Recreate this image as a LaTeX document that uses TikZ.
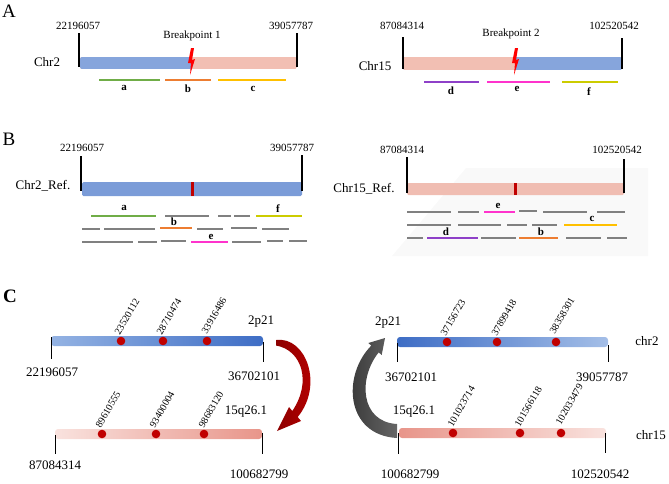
\documentclass[tikz,border=0pt]{standalone}
\usepackage{fontspec}
\setmainfont{Liberation Serif}
\definecolor{barblue}{HTML}{86A5DC}
\definecolor{barpink}{HTML}{F2BFB3}
\definecolor{refblue}{HTML}{7B9CD8}
\definecolor{refpink}{HTML}{F0BDB2}
\definecolor{rgreen}{HTML}{70AD47}
\definecolor{rorange}{HTML}{ED7D31}
\definecolor{ryellow}{HTML}{FFC000}
\definecolor{rpurple}{HTML}{8E40C8}
\definecolor{rmagenta}{HTML}{FF33CC}
\definecolor{rolive}{HTML}{CCCC00}
\definecolor{rgray}{HTML}{808080}
\definecolor{dotred}{HTML}{C00000}
\definecolor{cblueL}{HTML}{94B3E3}
\definecolor{cblueD}{HTML}{3E6DC5}
\definecolor{cpinkL}{HTML}{F9E2DE}
\definecolor{cpinkD}{HTML}{E8958A}
\tikzset{
  panel/.style={font=\fontsize{19}{21}\selectfont, inner sep=0},
  numA/.style={font=\fontsize{11}{13}\selectfont, inner sep=0},
  numC/.style={font=\fontsize{13}{15}\selectfont, inner sep=0},
  chrlab/.style={font=\fontsize{13}{15}\selectfont, inner sep=0},
  rl/.style={font=\fontsize{11}{13}\selectfont\bfseries, inner sep=0},
  rot/.style={font=\fontsize{10}{12}\selectfont, rotate=60, anchor=west, inner sep=0},
  tick/.style={line width=1.1pt, black},
  readline/.style={line width=2pt},
  dotc/.style={circle, fill=dotred, inner sep=0, minimum size=8.6pt},
}
\begin{document}
\begin{tikzpicture}[x=1pt,y=-1pt]
\useasboundingbox (0,0) rectangle (669,483);
% faint background (panel B right)
\fill[gray!5] (392,256) -- (466,168) -- (648,168) -- (648,256) -- cycle;

% ================= Panel A =================
\node[panel] (pA) at (9,11) {A};
\node[numA] (a1) at (78,26) {22196057};
\node[numA] (a2) at (291,26) {39057787};
\node[numA] (bp1) at (192,36) {Breakpoint 1};
\node[chrlab] (chr2) at (47,62) {Chr2};
\begin{scope}
  \clip[rounded corners=2] (80,57) rectangle (297,69);
  \fill[barpink] (80,57) rectangle (297,69);
  \fill[barblue] (80,57) rectangle (192,69);
\end{scope}
\draw[tick] (79,33) -- (79,67);
\draw[tick] (297,33) -- (297,67);
\begin{scope}[shift={(191,61)}]
  \fill[red] (0,-13) -- (3,-13) -- (1,-1) -- (4,-2) -- (-1,14) -- (0,2) -- (-3,2) -- cycle;
\end{scope}
\draw[readline, rgreen] (99,80) -- (160,80);
\draw[readline, rorange] (165,80) -- (211,80);
\draw[readline, ryellow] (218,80) -- (286,80);
\node[rl] (la) at (124,88) {a};
\node[rl] (lb) at (188,89) {b};
\node[rl] (lc) at (253,89) {c};

\node[numA] (a3) at (402,26) {87084314};
\node[numA] (a4) at (614,26) {102520542};
\node[numA] (bp2) at (511,34) {Breakpoint 2};
\node[chrlab] (chr15) at (375,66) {Chr15};
\begin{scope}
  \clip[rounded corners=2] (403,57) rectangle (622,70);
  \fill[barblue] (403,57) rectangle (622,70);
  \fill[barpink] (403,57) rectangle (515,70);
\end{scope}
\draw[tick] (403,37) -- (403,69);
\draw[tick] (622,38) -- (622,69);
\begin{scope}[shift={(515,61)}]
  \fill[red] (0,-13) -- (3,-13) -- (1,-1) -- (4,-2) -- (-1,14) -- (0,2) -- (-3,2) -- cycle;
\end{scope}
\draw[readline, rpurple] (424,82) -- (479,82);
\draw[readline, rmagenta] (487,82) -- (550,82);
\draw[readline, rolive] (562,82) -- (618,82);
\node[rl] (ld) at (451,91) {d};
\node[rl] (le) at (517,89) {e};
\node[rl] (lf) at (589,92) {f};

% ================= Panel B =================
\node[panel] (pB) at (9,139) {B};
\node[numA] (b1) at (82,148) {22196057};
\node[numA] (b2) at (292,148) {39057787};
\node[chrlab] (chr2r) at (43,186) {Chr2\_Ref.};
\fill[refblue, rounded corners=1.5] (82,182) rectangle (302,196);
\fill[dotred] (191,182) rectangle (193.5,196);
\draw[tick] (81,156) -- (81,191);
\draw[tick] (302,155) -- (302,191);
% row 1
\draw[readline, rgreen] (91,216) -- (156,216);
\draw[readline, rgray] (165,216) -- (209,216);
\draw[readline, rgray] (218,216) -- (231,216);
\draw[readline, rgray] (234,216) -- (250,216);
\draw[readline, rolive] (256,216) -- (302,216);
% row 2
\draw[readline, rgray] (82,229) -- (100,229);
\draw[readline, rgray] (104,229) -- (155,229);
\draw[readline, rorange] (160,228) -- (192,228);
\draw[readline, rgray] (197,229) -- (223,229);
\draw[readline, rgray] (231,228) -- (257,228);
\draw[readline, rgray] (262,229) -- (289,229);
% row 3
\draw[readline, rgray] (82,242) -- (133,242);
\draw[readline, rgray] (138,242) -- (157,242);
\draw[readline, rgray] (161,241) -- (186,241);
\draw[readline, rmagenta] (191,242) -- (228,242);
\draw[readline, rgray] (232,242) -- (261,242);
\draw[readline, rgray] (267,241) -- (283,241);
\draw[readline, rgray] (289,241) -- (307,241);
\node[rl] (ba) at (124,208) {a};
\node[rl] (bf) at (278,209) {f};
\node[rl] (bb) at (174,222) {b};
\node[rl] (be) at (211,237) {e};

\node[numA] (b3) at (402,150) {87084314};
\node[numA] (b4) at (617,150) {102520542};
\node[chrlab] (chr15r) at (364,189) {Chr15\_Ref.};
\fill[refpink, rounded corners=1.5] (407,183) rectangle (624,195);
\fill[dotred] (514,183) rectangle (516.5,195);
\draw[tick] (407,157) -- (407,193);
\draw[tick] (624,159) -- (624,193);
% row 1
\draw[readline, rgray] (407,212) -- (451,212);
\draw[readline, rgray] (458,212) -- (479,212);
\draw[readline, rmagenta] (484,212) -- (515,212);
\draw[readline, rgray] (519,211) -- (537,211);
\draw[readline, rgray] (543,212) -- (587,212);
\draw[readline, rgray] (597,212) -- (625,212);
% row 2
\draw[readline, rgray] (407,225) -- (451,225);
\draw[readline, rgray] (458,225) -- (501,225);
\draw[readline, rgray] (507,225) -- (527,225);
\draw[readline, rgray] (532,225) -- (557,225);
\draw[readline, ryellow] (564,225) -- (617,225);
% row 3
\draw[readline, rgray] (407,238) -- (423,238);
\draw[readline, rpurple] (427,238) -- (478,238);
\draw[readline, rgray] (481,238) -- (516,238);
\draw[readline, rorange] (519,238) -- (558,238);
\draw[readline, rgray] (566,238) -- (601,238);
\draw[readline, rgray] (607,238) -- (627,238);
\node[rl] (re) at (498,206) {e};
\node[rl] (rc) at (592,219) {c};
\node[rl] (rd) at (446,232) {d};
\node[rl] (rb) at (541,232) {b};

% ================= Panel C =================
\node[panel, font=\fontsize{19}{21}\selectfont\bfseries] (pC) at (10,296) {C};
% left top
\shade[left color=cblueL, right color=cblueD, rounded corners=3] (51,336) rectangle (263,346);
\draw[tick, line width=0.9pt] (51,337) -- (51,359);
\draw[tick, line width=0.9pt] (263,342) -- (263,362);
\node[dotc] (d1) at (121,341) {};
\node[dotc] (d2) at (163,341) {};
\node[dotc] (d3) at (207,341) {};
\node[rot] (t1) at (117,334) {23520112};
\node[rot] (t2) at (159,334) {28710474};
\node[rot] (t3) at (204,333) {33916486};
\node[numC] (p2a) at (261,322) {2p21};
\node[numC] (c1) at (52,372) {22196057};
\node[numC] (c2) at (254,376) {36702101};
% left bottom
\shade[left color=cpinkL, right color=cpinkD, rounded corners=3] (55,429) rectangle (262,439);
\draw[tick, line width=0.9pt] (55,435) -- (55,454);
\draw[tick, line width=0.9pt] (262,433) -- (262,454);
\node[dotc] (d4) at (102,434) {};
\node[dotc] (d5) at (156,434) {};
\node[dotc] (d6) at (204,434) {};
\node[rot] (t4) at (98,427) {89610555};
\node[rot] (t5) at (152,427) {93400004};
\node[rot] (t6) at (201,427) {98683120};
\node[numC] (q15a) at (246,412) {15q26.1};
\node[numC] (c3) at (55,465) {87084314};
\node[numC] (c4) at (259,474) {100682799};
% red curved arrow
\shade[left color=red!55!black, right color=dotred]
  (276,340) .. controls (306,336) and (324,385) .. (297.7,417)
  -- (301,421) -- (277,431) -- (289,407) -- (292.3,411)
  .. controls (312,382) and (302,350) .. (276,345.5) -- cycle;

% right top
\shade[left color=cblueD, right color=cblueL!85!white, rounded corners=3] (397,337) rectangle (608,347);
\draw[tick, line width=0.9pt] (397,343) -- (397,362);
\draw[tick, line width=0.9pt] (608,345) -- (608,362);
\node[dotc] (d7) at (447,342) {};
\node[dotc] (d8) at (497,342) {};
\node[dotc] (d9) at (556,342) {};
\node[rot] (t7) at (443,335) {37156723};
\node[rot] (t8) at (494,335) {37899418};
\node[rot] (t9) at (552,333) {38358301};
\node[numC] (p2b) at (388,323) {2p21};
\node[chrlab] (chr2c) at (647,341) {chr2};
\node[numC] (c5) at (411,377) {36702101};
\node[numC] (c6) at (602,377) {39057787};
% right bottom
\shade[left color=cpinkD, right color=cpinkL, rounded corners=3] (399,428) rectangle (606,438);
\draw[tick, line width=0.9pt] (398,433) -- (398,454);
\draw[tick, line width=0.9pt] (605,433) -- (605,453);
\node[dotc] (d10) at (453,433) {};
\node[dotc] (d11) at (520,433) {};
\node[dotc] (d12) at (561,433) {};
\node[rot] (t10) at (450,426) {101023714};
\node[rot] (t11) at (517,426) {101566118};
\node[rot] (t12) at (558,424) {102033479};
\node[numC] (q15b) at (414,412) {15q26.1};
\node[chrlab] (chr15c) at (651,435) {chr15};
\node[numC] (c7) at (410,474) {100682799};
\node[numC] (c8) at (600,474) {102520542};
% grey curved arrow
\shade[left color=black!80, right color=black!60]
  (397,438) .. controls (345,435) and (342,375) .. (371.3,345.6)
  -- (368.3,343) -- (385,338) -- (381.7,355) -- (378.7,352.4)
  .. controls (358,378) and (360,422) .. (397,424) -- cycle;
\end{tikzpicture}
\end{document}
